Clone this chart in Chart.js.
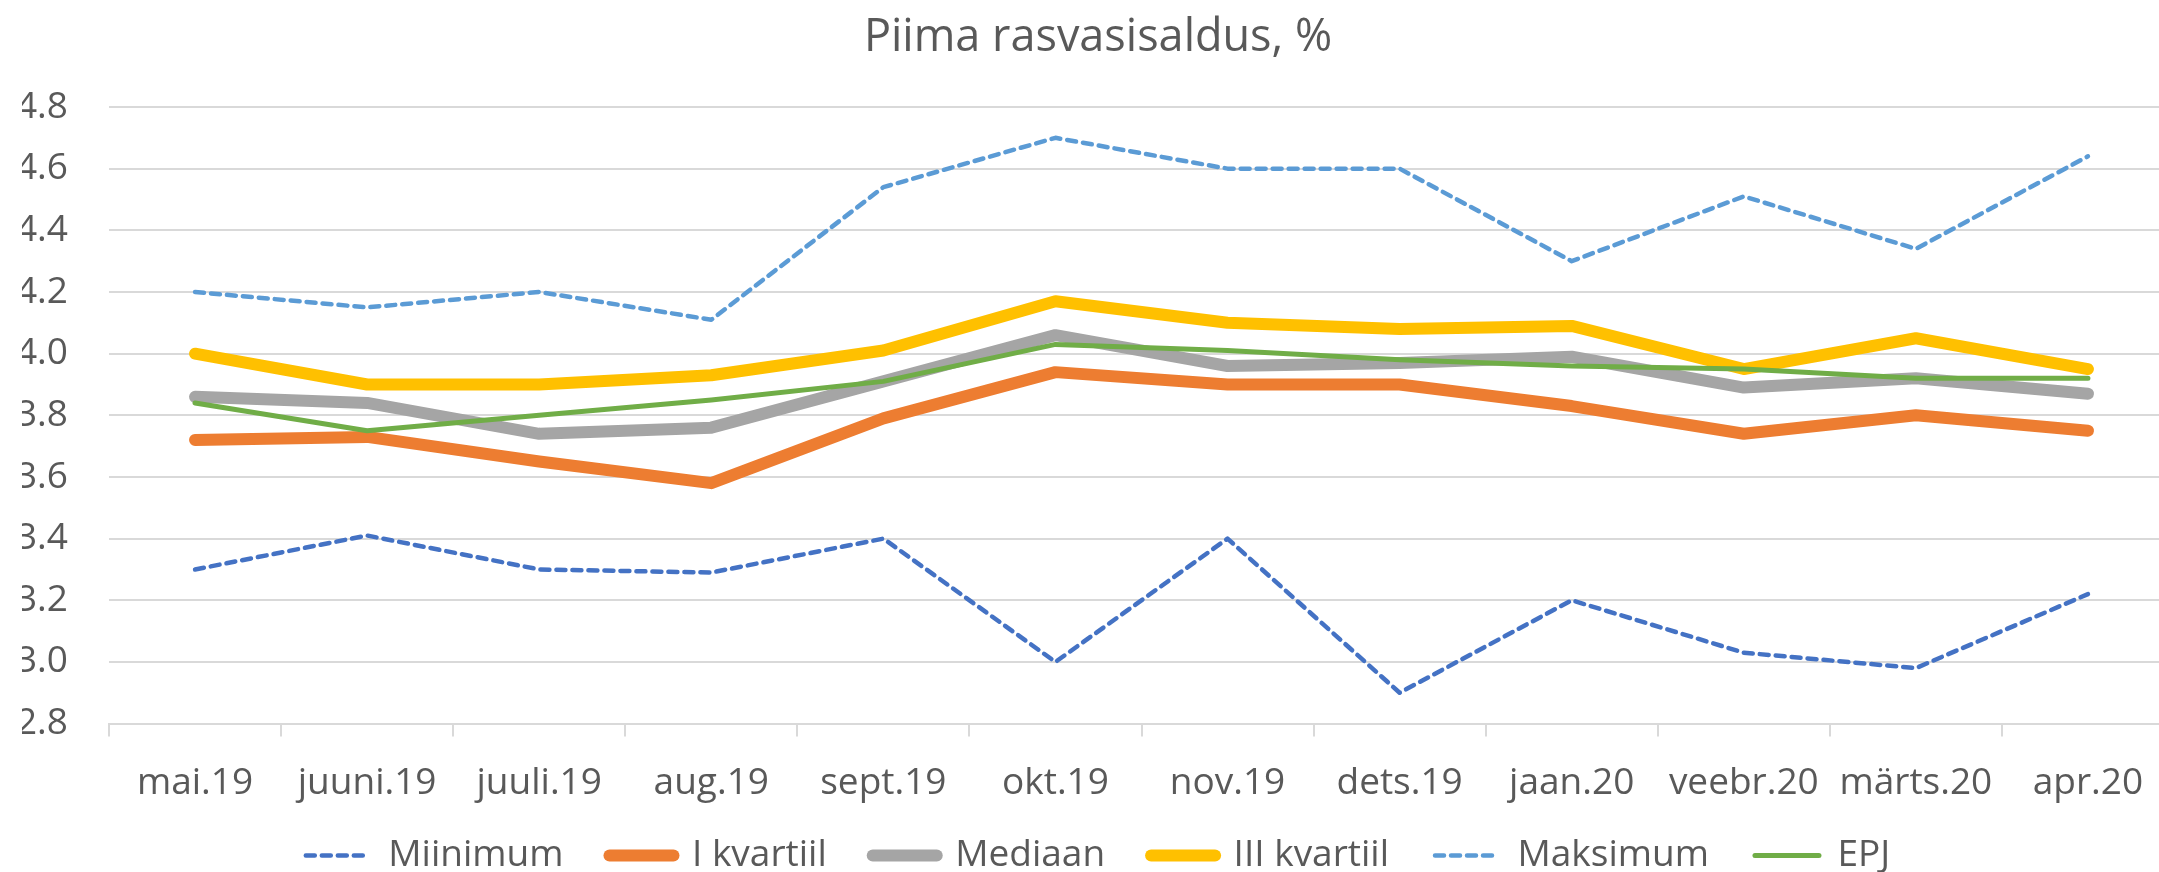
<!DOCTYPE html>
<html>
<head>
<meta charset="utf-8">
<script src="https://cdn.jsdelivr.net/npm/chart.js@4/dist/chart.umd.min.js"></script>
<style>
  html, body { margin: 0; padding: 0; background: #ffffff; overflow: hidden; }
  canvas { display: block; }
</style>
</head>
<body>
<canvas id="c" width="2174" height="924"></canvas>
<script>
const categories = ["mai.19", "juuni.19", "juuli.19", "aug.19", "sept.19", "okt.19", "nov.19", "dets.19", "jaan.20", "veebr.20", "märts.20", "apr.20"];
const miinimum   = [3.30, 3.41, 3.30, 3.29, 3.40, 3.00, 3.40, 2.90, 3.20, 3.03, 2.98, 3.22];
const kvartiil1  = [3.72, 3.73, 3.65, 3.58, 3.79, 3.94, 3.90, 3.90, 3.83, 3.74, 3.80, 3.75];
const mediaan    = [3.86, 3.84, 3.74, 3.76, 3.91, 4.06, 3.96, 3.97, 3.99, 3.89, 3.92, 3.87];
const kvartiil3  = [4.00, 3.90, 3.90, 3.93, 4.01, 4.17, 4.10, 4.08, 4.09, 3.95, 4.05, 3.95];
const maksimum   = [4.20, 4.15, 4.20, 4.11, 4.54, 4.70, 4.60, 4.60, 4.30, 4.51, 4.34, 4.64];
const epj        = [3.84, 3.75, 3.80, 3.85, 3.91, 4.03, 4.01, 3.98, 3.96, 3.95, 3.92, 3.92];
const yMin = 2.8, yMax = 4.8, yStep = 0.2;
const titleText = "Piima rasvasisaldus, %";

const textColor = '#595959';
Chart.defaults.font.family = "'Open Sans', sans-serif";
Chart.defaults.color = textColor;

function ds(label, data, color, width, dash, order) {
  return {
    label, data, borderColor: color, backgroundColor: color,
    borderWidth: width, borderDash: dash, borderCapStyle: 'round',
    borderJoinStyle: 'round', pointRadius: 0, pointHoverRadius: 0,
    tension: 0, fill: false, order
  };
}

// place the legend row just under the axis labels
const legendLift = {
  id: 'legendLift',
  afterLayout(chart) {
    const lg = chart.legend;
    if (lg) { const h = lg.bottom - lg.top; lg.top = 791; lg.bottom = 791 + h; }
  }
};

new Chart(document.getElementById('c'), {
  type: 'line',
  plugins: [legendLift],
  data: {
    labels: categories,
    datasets: [
      ds('Miinimum', miinimum, '#4472C4', 4.5, [9, 7], 5),
      ds('I kvartiil', kvartiil1, '#ED7D31', 12, [], 4),
      ds('Mediaan', mediaan, '#A5A5A5', 12, [], 3),
      ds('III kvartiil', kvartiil3, '#FFC000', 12, [], 2),
      ds('Maksimum', maksimum, '#5B9BD5', 4.5, [9, 7], 1),
      ds('EPJ', epj, '#70AD47', 5, [], 0)
    ]
  },
  options: {
    responsive: false,
    animation: false,
    events: [],
    layout: { padding: { left: 22, right: 0, top: 0, bottom: 0 } },
    plugins: {
      title: {
        display: true, text: titleText, color: textColor,
        font: { size: 45, weight: 'normal', lineHeight: 1.2 },
        padding: { top: 11, bottom: 42 }
      },
      legend: {
        position: 'bottom',
        labels: {
          color: textColor,
          font: { size: 37 },
          usePointStyle: true,
          pointStyleWidth: 64,
          boxHeight: 12,
          padding: 46,
          generateLabels(chart) {
            return chart.data.datasets.map((d, i) => ({
              text: d.label,
              fillStyle: d.borderColor,
              strokeStyle: d.borderColor,
              lineWidth: d.borderWidth,
              lineDash: d.borderDash,
              lineCap: 'round',
              pointStyle: 'line',
              hidden: false,
              datasetIndex: i,
              fontColor: textColor
            }));
          }
        }
      },
      tooltip: { enabled: false }
    },
    scales: {
      x: {
        offset: true,
        grid: { display: true, drawOnChartArea: false, drawTicks: true, tickLength: 13, color: '#d9d9d9', lineWidth: 2, offset: true },
        border: { display: true, color: '#d9d9d9', width: 2 },
        ticks: { color: textColor, font: { size: 37 }, padding: 25, maxRotation: 0, autoSkip: false }
      },
      y: {
        min: yMin, max: yMax,
        grid: { color: '#d9d9d9', lineWidth: 2, drawTicks: false },
        border: { display: false },
        ticks: { stepSize: yStep, color: textColor, font: { size: 37 }, padding: 41,
                 callback: (v) => Number(v).toFixed(1) },
        afterFit(scale) { scale.width = 87; }
      }
    }
  }
});
</script>
</body>
</html>
